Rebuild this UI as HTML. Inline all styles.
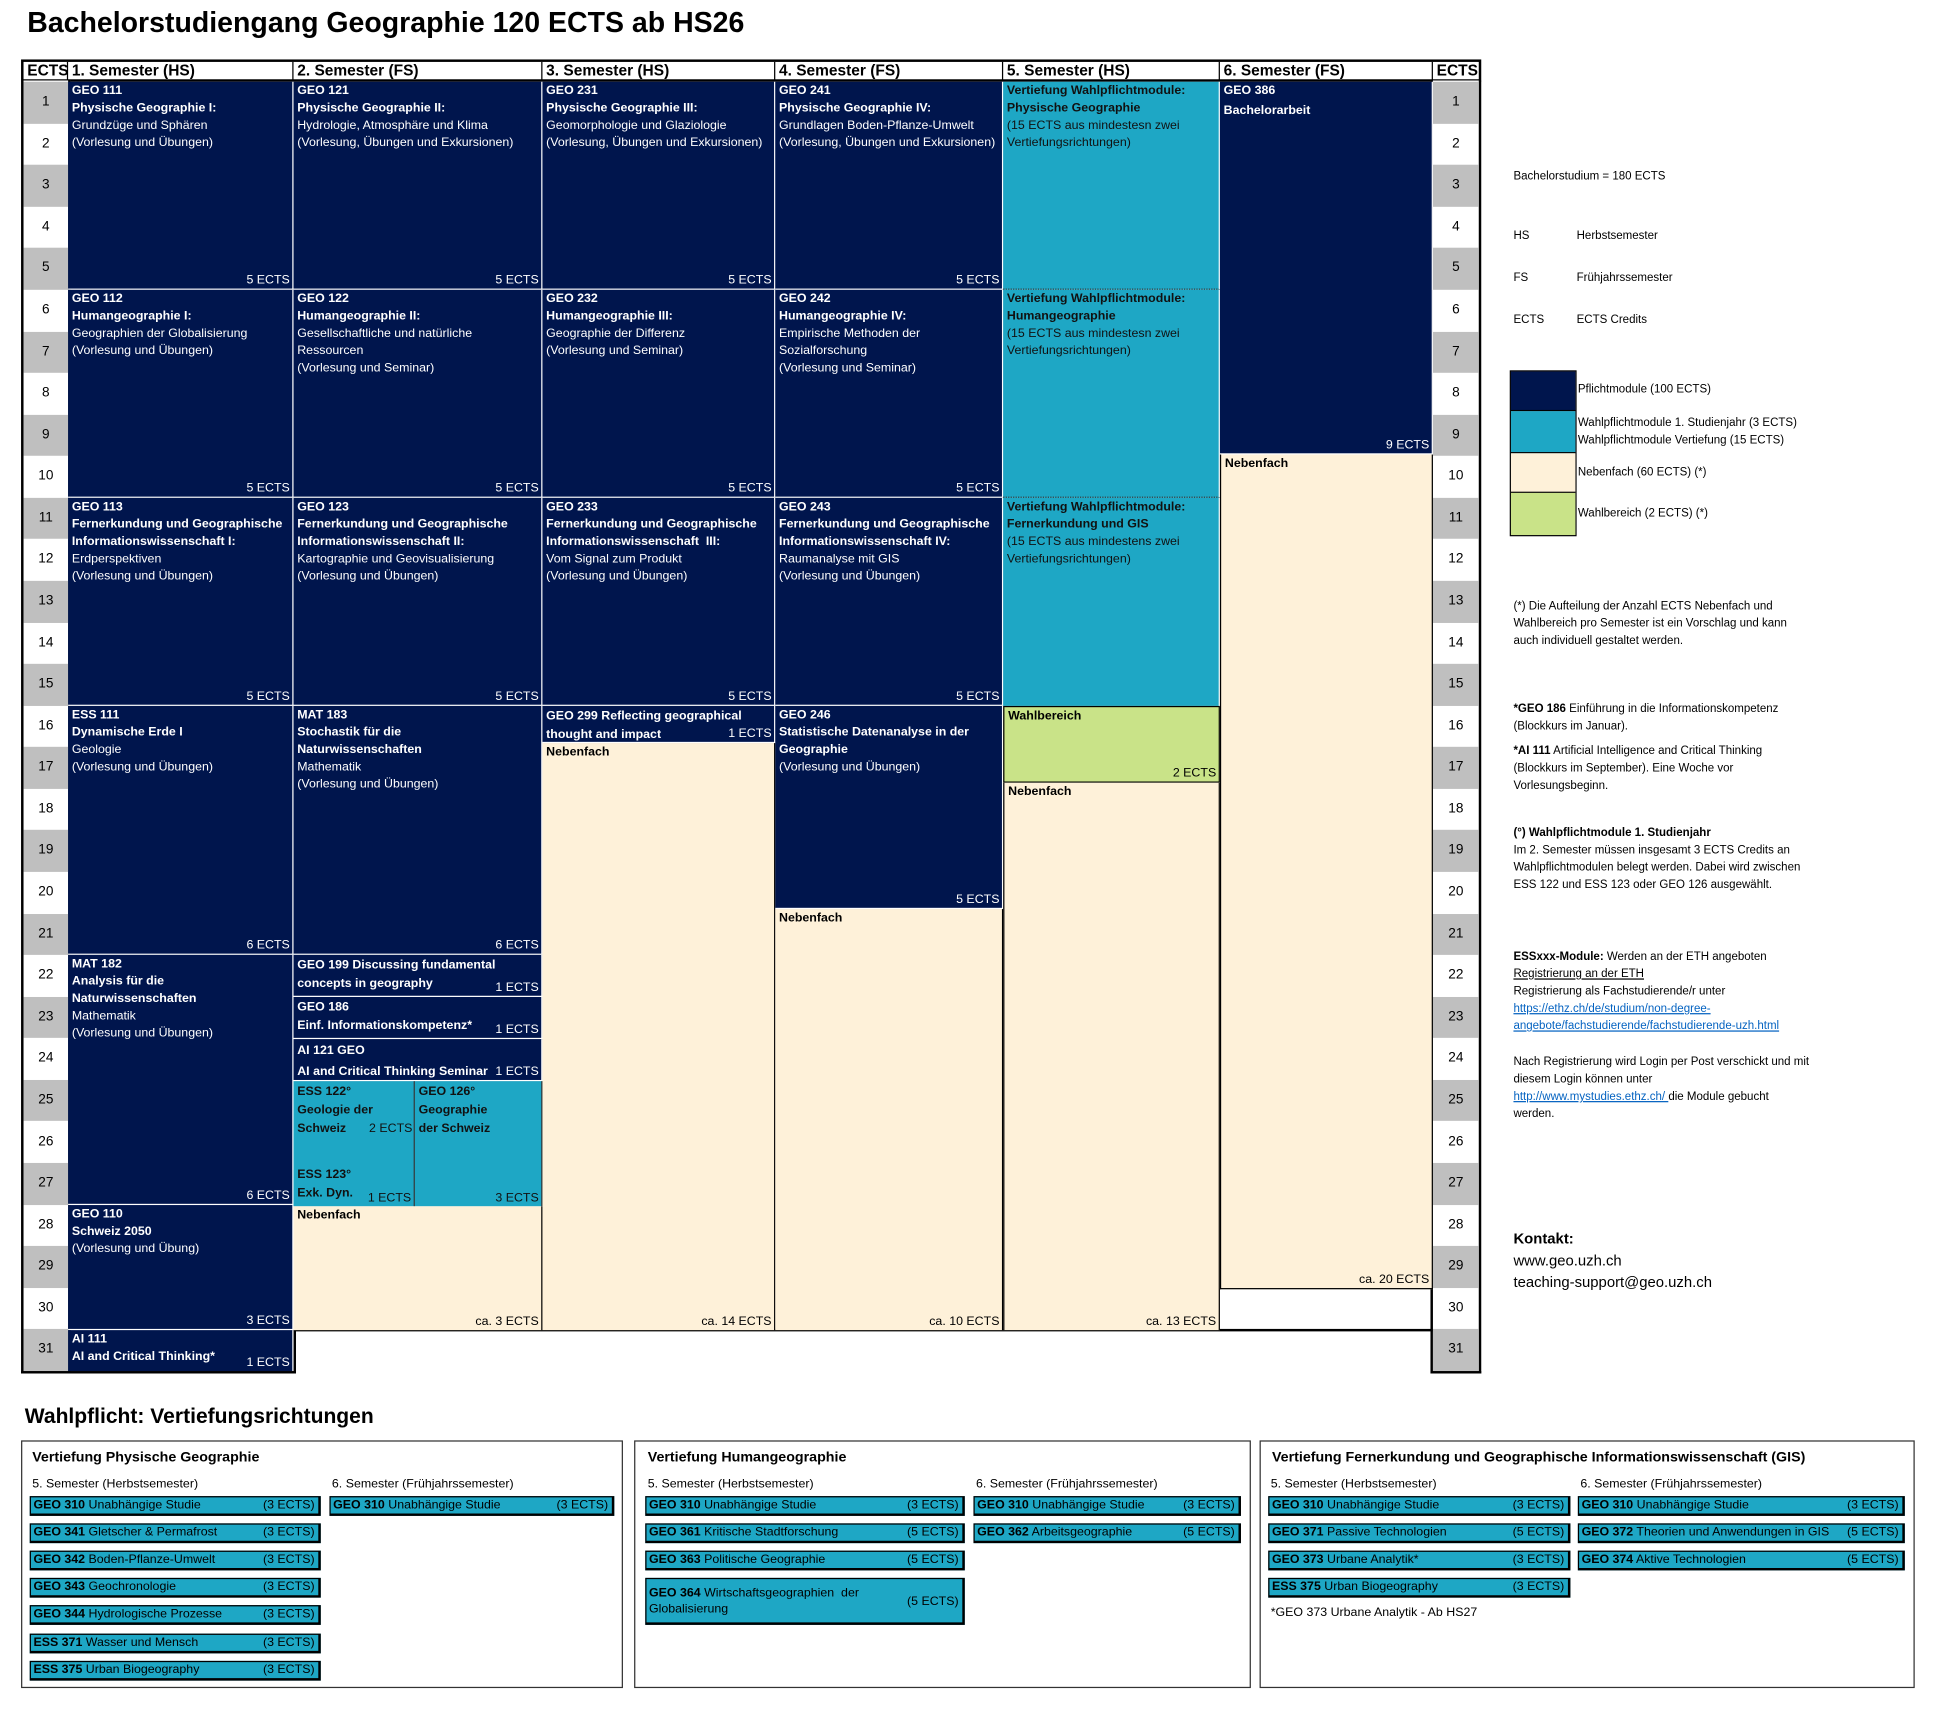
<!DOCTYPE html>
<html><head><meta charset="utf-8">
<style>
html,body{margin:0;padding:0;background:#fff;}
body{width:1942px;height:1712px;overflow:hidden;}
#w{position:absolute;left:0;top:0;width:1570px;height:1383px;transform:scale(1.2385);transform-origin:0 0;font-family:"Liberation Sans Narrow","Liberation Sans",sans-serif;color:#000;}
.a{position:absolute;box-sizing:border-box;}
.n{background:#00154d;color:#fff;border-right:1px solid #fff;border-bottom:1.5px solid #fff;}
.t{background:#1ea7c5;color:#111;border-right:1px solid #fff;}
.be{background:#fef1d9;color:#000;border-right:1px solid #000;}
.g{background:#c9e388;color:#000;border:1px solid #000;}
.b{font-size:10px;line-height:14px;padding:1px 3px;}
.b b{font-weight:bold;}
.e{position:absolute;right:2px;bottom:0;font-size:10px;line-height:13px;}
.h{font-size:12.5px;font-weight:bold;line-height:15px;padding-left:3px;border-right:1.5px solid #000;}
.num{font-size:11px;text-align:center;}
.gr{background:#bfbfbf}
.nt{font-family:"Liberation Sans",sans-serif;font-size:9.3px;line-height:14px;}
.bar{position:absolute;box-sizing:border-box;background:#1ea7c5;border:1px solid #000;border-bottom:2px solid #000;border-right:2px solid #000;font-size:10px;line-height:13px;padding:0 2px;}
.bar span{position:absolute;right:3px;top:0;}
.box{position:absolute;border:1.5px solid #333;box-sizing:border-box;}
.lb{font-size:10px;}
</style></head><body><div id="w">
<div class="a" style="left:22px;top:5px;font-size:23px;font-weight:bold;">Bachelorstudiengang Geographie 120 ECTS ab HS26</div>

<!-- header -->
<div class="a" style="left:17px;top:48px;width:1179px;height:18px;border:2px solid #000;"></div>
<div class="a h" style="left:19px;top:50px;width:36px;">ECTS</div>
<div class="a h" style="left:55px;top:50px;width:182px;">1. Semester (HS)</div>
<div class="a h" style="left:237px;top:50px;width:201px;">2. Semester (FS)</div>
<div class="a h" style="left:438px;top:50px;width:188px;">3. Semester (HS)</div>
<div class="a h" style="left:626px;top:50px;width:184px;">4. Semester (FS)</div>
<div class="a h" style="left:810px;top:50px;width:175px;">5. Semester (HS)</div>
<div class="a h" style="left:985px;top:50px;width:172px;">6. Semester (FS)</div>
<div class="a h" style="left:1157px;top:50px;width:37px;border-right:none;">ECTS</div>

<!-- ECTS columns -->
<div class="a" style="left:17px;top:65px;width:40px;height:1044px;border:2px solid #000;border-top:none;background:#fff;"></div>
<div class="a" style="left:1155px;top:65px;width:41px;height:1044px;border:2px solid #000;border-top:none;background:#fff;"></div>
<div class="a" style="left:55px;top:1073px;width:184px;height:36px;border-bottom:2px solid #000;border-right:2px solid #000;"></div>
<div class="a" style="left:237px;top:1073px;width:920px;height:2px;background:#000;"></div>

<div class="a num gr" style="left:19px;top:66px;width:36px;height:33.6px;line-height:33.6px;">1</div>
<div class="a num" style="left:19px;top:99.6px;width:36px;height:33.6px;line-height:33.6px;">2</div>
<div class="a num gr" style="left:19px;top:133.2px;width:36px;height:33.6px;line-height:33.6px;">3</div>
<div class="a num" style="left:19px;top:166.7px;width:36px;height:33.6px;line-height:33.6px;">4</div>
<div class="a num gr" style="left:19px;top:200.3px;width:36px;height:33.6px;line-height:33.6px;">5</div>
<div class="a num" style="left:19px;top:233.9px;width:36px;height:33.6px;line-height:33.6px;">6</div>
<div class="a num gr" style="left:19px;top:267.5px;width:36px;height:33.6px;line-height:33.6px;">7</div>
<div class="a num" style="left:19px;top:301.1px;width:36px;height:33.6px;line-height:33.6px;">8</div>
<div class="a num gr" style="left:19px;top:334.6px;width:36px;height:33.6px;line-height:33.6px;">9</div>
<div class="a num" style="left:19px;top:368.2px;width:36px;height:33.6px;line-height:33.6px;">10</div>
<div class="a num gr" style="left:19px;top:401.8px;width:36px;height:33.6px;line-height:33.6px;">11</div>
<div class="a num" style="left:19px;top:435.4px;width:36px;height:33.6px;line-height:33.6px;">12</div>
<div class="a num gr" style="left:19px;top:469px;width:36px;height:33.6px;line-height:33.6px;">13</div>
<div class="a num" style="left:19px;top:502.5px;width:36px;height:33.6px;line-height:33.6px;">14</div>
<div class="a num gr" style="left:19px;top:536.1px;width:36px;height:33.6px;line-height:33.6px;">15</div>
<div class="a num" style="left:19px;top:569.7px;width:36px;height:33.6px;line-height:33.6px;">16</div>
<div class="a num gr" style="left:19px;top:603.3px;width:36px;height:33.6px;line-height:33.6px;">17</div>
<div class="a num" style="left:19px;top:636.9px;width:36px;height:33.6px;line-height:33.6px;">18</div>
<div class="a num gr" style="left:19px;top:670.4px;width:36px;height:33.6px;line-height:33.6px;">19</div>
<div class="a num" style="left:19px;top:704px;width:36px;height:33.6px;line-height:33.6px;">20</div>
<div class="a num gr" style="left:19px;top:737.6px;width:36px;height:33.6px;line-height:33.6px;">21</div>
<div class="a num" style="left:19px;top:771.2px;width:36px;height:33.6px;line-height:33.6px;">22</div>
<div class="a num gr" style="left:19px;top:804.8px;width:36px;height:33.6px;line-height:33.6px;">23</div>
<div class="a num" style="left:19px;top:838.3px;width:36px;height:33.6px;line-height:33.6px;">24</div>
<div class="a num gr" style="left:19px;top:871.9px;width:36px;height:33.6px;line-height:33.6px;">25</div>
<div class="a num" style="left:19px;top:905.5px;width:36px;height:33.6px;line-height:33.6px;">26</div>
<div class="a num gr" style="left:19px;top:939.1px;width:36px;height:33.6px;line-height:33.6px;">27</div>
<div class="a num" style="left:19px;top:972.7px;width:36px;height:33.6px;line-height:33.6px;">28</div>
<div class="a num gr" style="left:19px;top:1006.2px;width:36px;height:33.6px;line-height:33.6px;">29</div>
<div class="a num" style="left:19px;top:1039.8px;width:36px;height:33.6px;line-height:33.6px;">30</div>
<div class="a num gr" style="left:19px;top:1073.4px;width:36px;height:33.6px;line-height:33.6px;">31</div>

<div class="a num gr" style="left:1157px;top:66px;width:37px;height:33.6px;line-height:33.6px;">1</div>
<div class="a num" style="left:1157px;top:99.6px;width:37px;height:33.6px;line-height:33.6px;">2</div>
<div class="a num gr" style="left:1157px;top:133.2px;width:37px;height:33.6px;line-height:33.6px;">3</div>
<div class="a num" style="left:1157px;top:166.7px;width:37px;height:33.6px;line-height:33.6px;">4</div>
<div class="a num gr" style="left:1157px;top:200.3px;width:37px;height:33.6px;line-height:33.6px;">5</div>
<div class="a num" style="left:1157px;top:233.9px;width:37px;height:33.6px;line-height:33.6px;">6</div>
<div class="a num gr" style="left:1157px;top:267.5px;width:37px;height:33.6px;line-height:33.6px;">7</div>
<div class="a num" style="left:1157px;top:301.1px;width:37px;height:33.6px;line-height:33.6px;">8</div>
<div class="a num gr" style="left:1157px;top:334.6px;width:37px;height:33.6px;line-height:33.6px;">9</div>
<div class="a num" style="left:1157px;top:368.2px;width:37px;height:33.6px;line-height:33.6px;">10</div>
<div class="a num gr" style="left:1157px;top:401.8px;width:37px;height:33.6px;line-height:33.6px;">11</div>
<div class="a num" style="left:1157px;top:435.4px;width:37px;height:33.6px;line-height:33.6px;">12</div>
<div class="a num gr" style="left:1157px;top:469px;width:37px;height:33.6px;line-height:33.6px;">13</div>
<div class="a num" style="left:1157px;top:502.5px;width:37px;height:33.6px;line-height:33.6px;">14</div>
<div class="a num gr" style="left:1157px;top:536.1px;width:37px;height:33.6px;line-height:33.6px;">15</div>
<div class="a num" style="left:1157px;top:569.7px;width:37px;height:33.6px;line-height:33.6px;">16</div>
<div class="a num gr" style="left:1157px;top:603.3px;width:37px;height:33.6px;line-height:33.6px;">17</div>
<div class="a num" style="left:1157px;top:636.9px;width:37px;height:33.6px;line-height:33.6px;">18</div>
<div class="a num gr" style="left:1157px;top:670.4px;width:37px;height:33.6px;line-height:33.6px;">19</div>
<div class="a num" style="left:1157px;top:704px;width:37px;height:33.6px;line-height:33.6px;">20</div>
<div class="a num gr" style="left:1157px;top:737.6px;width:37px;height:33.6px;line-height:33.6px;">21</div>
<div class="a num" style="left:1157px;top:771.2px;width:37px;height:33.6px;line-height:33.6px;">22</div>
<div class="a num gr" style="left:1157px;top:804.8px;width:37px;height:33.6px;line-height:33.6px;">23</div>
<div class="a num" style="left:1157px;top:838.3px;width:37px;height:33.6px;line-height:33.6px;">24</div>
<div class="a num gr" style="left:1157px;top:871.9px;width:37px;height:33.6px;line-height:33.6px;">25</div>
<div class="a num" style="left:1157px;top:905.5px;width:37px;height:33.6px;line-height:33.6px;">26</div>
<div class="a num gr" style="left:1157px;top:939.1px;width:37px;height:33.6px;line-height:33.6px;">27</div>
<div class="a num" style="left:1157px;top:972.7px;width:37px;height:33.6px;line-height:33.6px;">28</div>
<div class="a num gr" style="left:1157px;top:1006.2px;width:37px;height:33.6px;line-height:33.6px;">29</div>
<div class="a num" style="left:1157px;top:1039.8px;width:37px;height:33.6px;line-height:33.6px;">30</div>
<div class="a num gr" style="left:1157px;top:1073.4px;width:37px;height:33.6px;line-height:33.6px;">31</div>

<!-- Column 1 -->
<div class="a n b" style="left:55px;top:66px;width:182px;height:168px;"><b>GEO 111</b><br><b>Physische Geographie I:</b><br>Grundzüge und Sphären<br>(Vorlesung und Übungen)<span class="e">5 ECTS</span></div>
<div class="a n b" style="left:55px;top:234px;width:182px;height:168px;"><b>GEO 112</b><br><b>Humangeographie I:</b><br>Geographien der Globalisierung<br>(Vorlesung und Übungen)<span class="e">5 ECTS</span></div>
<div class="a n b" style="left:55px;top:402px;width:182px;height:168px;"><b>GEO 113</b><br><b>Fernerkundung und Geographische Informationswissenschaft I:</b><br>Erdperspektiven<br>(Vorlesung und Übungen)<span class="e">5 ECTS</span></div>
<div class="a n b" style="left:55px;top:570px;width:182px;height:201px;"><b>ESS 111</b><br><b>Dynamische Erde I</b><br>Geologie<br>(Vorlesung und Übungen)<span class="e">6 ECTS</span></div>
<div class="a n b" style="left:55px;top:771px;width:182px;height:202px;"><b>MAT 182</b><br><b>Analysis für die Naturwissenschaften</b><br>Mathematik<br>(Vorlesung und Übungen)<span class="e">6 ECTS</span></div>
<div class="a n b" style="left:55px;top:973px;width:182px;height:101px;"><b>GEO 110</b><br><b>Schweiz 2050</b><br>(Vorlesung und Übung)<span class="e">3 ECTS</span></div>
<div class="a n b" style="left:55px;top:1074px;width:182px;height:33px;border-bottom:none;"><b>AI 111</b><br><b>AI and Critical Thinking*</b><span class="e">1 ECTS</span></div>

<!-- Column 2 -->
<div class="a n b" style="left:237px;top:66px;width:201px;height:168px;"><b>GEO 121</b><br><b>Physische Geographie II:</b><br>Hydrologie, Atmosphäre und Klima<br>(Vorlesung, Übungen und Exkursionen)<span class="e">5 ECTS</span></div>
<div class="a n b" style="left:237px;top:234px;width:201px;height:168px;"><b>GEO 122</b><br><b>Humangeographie II:</b><br>Gesellschaftliche und natürliche Ressourcen<br>(Vorlesung und Seminar)<span class="e">5 ECTS</span></div>
<div class="a n b" style="left:237px;top:402px;width:201px;height:168px;"><b>GEO 123</b><br><b>Fernerkundung und Geographische Informationswissenschaft II:</b><br>Kartographie und Geovisualisierung<br>(Vorlesung und Übungen)<span class="e">5 ECTS</span></div>
<div class="a n b" style="left:237px;top:570px;width:201px;height:201px;"><b>MAT 183</b><br><b>Stochastik für die<br>Naturwissenschaften</b><br>Mathematik<br>(Vorlesung und Übungen)<span class="e">6 ECTS</span></div>
<div class="a n b" style="left:237px;top:771px;width:201px;height:34px;line-height:15px;"><b>GEO 199 Discussing fundamental<br>concepts in geography</b><span class="e">1 ECTS</span></div>
<div class="a n b" style="left:237px;top:805px;width:201px;height:34px;line-height:15px;"><b>GEO 186</b><br><b>Einf. Informationskompetenz*</b><span class="e">1 ECTS</span></div>
<div class="a n b" style="left:237px;top:839px;width:201px;height:34px;line-height:17px;"><b>AI 121 GEO</b><br><b>AI and Critical Thinking Seminar</b><span class="e">1 ECTS</span></div>
<div class="a t b" style="left:237px;top:873px;width:98px;height:101px;border-right:1px solid #333;line-height:15px;"><b>ESS 122°<br>Geologie der<br>Schweiz</b><span class="a" style="right:1px;top:31px;">2 ECTS</span><span class="a" style="left:3px;top:68px;"><b>ESS 123°<br>Exk. Dyn.</b></span><span class="e">1 ECTS</span></div>
<div class="a t b" style="left:335px;top:873px;width:103px;height:101px;line-height:15px;border-right:1px solid #333;"><b>GEO 126°<br>Geographie<br>der Schweiz</b><span class="e">3 ECTS</span></div>
<div class="a be b" style="left:237px;top:974px;width:201px;height:100px;"><b>Nebenfach</b><span class="e">ca. 3 ECTS</span></div>

<!-- Column 3 -->
<div class="a n b" style="left:438px;top:66px;width:188px;height:168px;"><b>GEO 231</b><br><b>Physische Geographie III:</b><br>Geomorphologie und Glaziologie<br>(Vorlesung, Übungen und Exkursionen)<span class="e">5 ECTS</span></div>
<div class="a n b" style="left:438px;top:234px;width:188px;height:168px;"><b>GEO 232</b><br><b>Humangeographie III:</b><br>Geographie der Differenz<br>(Vorlesung und Seminar)<span class="e">5 ECTS</span></div>
<div class="a n b" style="left:438px;top:402px;width:188px;height:168px;"><b>GEO 233</b><br><b>Fernerkundung und Geographische Informationswissenschaft &nbsp;III:</b><br>Vom Signal zum Produkt<br>(Vorlesung und Übungen)<span class="e">5 ECTS</span></div>
<div class="a n b" style="left:438px;top:570px;width:188px;height:30px;line-height:15px;"><b>GEO 299 Reflecting geographical<br>thought and impact</b><span class="e">1 ECTS</span></div>
<div class="a be b" style="left:438px;top:600px;width:188px;height:474px;"><b>Nebenfach</b><span class="e">ca. 14 ECTS</span></div>

<!-- Column 4 -->
<div class="a n b" style="left:626px;top:66px;width:184px;height:168px;"><b>GEO 241</b><br><b>Physische Geographie IV:</b><br>Grundlagen Boden-Pflanze-Umwelt<br>(Vorlesung, Übungen und Exkursionen)<span class="e">5 ECTS</span></div>
<div class="a n b" style="left:626px;top:234px;width:184px;height:168px;"><b>GEO 242</b><br><b>Humangeographie IV:</b><br>Empirische Methoden der Sozialforschung<br>(Vorlesung und Seminar)<span class="e">5 ECTS</span></div>
<div class="a n b" style="left:626px;top:402px;width:184px;height:168px;"><b>GEO 243</b><br><b>Fernerkundung und Geographische Informationswissenschaft IV:</b><br>Raumanalyse mit GIS<br>(Vorlesung und Übungen)<span class="e">5 ECTS</span></div>
<div class="a n b" style="left:626px;top:570px;width:184px;height:164px;"><b>GEO 246</b><br><b>Statistische Datenanalyse in der Geographie</b><br>(Vorlesung und Übungen)<span class="e">5 ECTS</span></div>
<div class="a be b" style="left:626px;top:734px;width:184px;height:340px;"><b>Nebenfach</b><span class="e">ca. 10 ECTS</span></div>

<!-- Column 5 -->
<div class="a t b" style="left:810px;top:66px;width:175px;height:168px;border-bottom:1px dotted #333;"><b>Vertiefung Wahlpflichtmodule:<br>Physische Geographie</b><br>(15 ECTS aus mindestesn zwei Vertiefungsrichtungen)</div>
<div class="a t b" style="left:810px;top:234px;width:175px;height:168px;border-bottom:1px dotted #333;"><b>Vertiefung Wahlpflichtmodule:<br>Humangeographie</b><br>(15 ECTS aus mindestesn zwei Vertiefungsrichtungen)</div>
<div class="a t b" style="left:810px;top:402px;width:175px;height:168px;"><b>Vertiefung Wahlpflichtmodule:<br>Fernerkundung und GIS</b><br>(15 ECTS aus mindestens zwei Vertiefungsrichtungen)</div>
<div class="a g b" style="left:810px;top:570px;width:175px;height:62px;"><b>Wahlbereich</b><span class="e">2 ECTS</span></div>
<div class="a be b" style="left:810px;top:632px;width:175px;height:442px;border-left:1px solid #000;"><b>Nebenfach</b><span class="e">ca. 13 ECTS</span></div>

<!-- Column 6 -->
<div class="a n b" style="left:985px;top:66px;width:172px;height:301px;"><b>GEO 386</b><br><b style="line-height:18px">Bachelorarbeit</b><span class="e">9 ECTS</span></div>
<div class="a be b" style="left:985px;top:367px;width:172px;height:674px;border-left:1px solid #000;border-bottom:1px solid #000;"><b>Nebenfach</b><span class="e">ca. 20 ECTS</span></div>

<!-- legend -->
<div class="a nt" style="left:1222px;top:135px;">Bachelorstudium = 180 ECTS</div>
<div class="a nt" style="left:1222px;top:183px;">HS</div><div class="a nt" style="left:1273px;top:183px;">Herbstsemester</div>
<div class="a nt" style="left:1222px;top:217px;">FS</div><div class="a nt" style="left:1273px;top:217px;">Frühjahrssemester</div>
<div class="a nt" style="left:1222px;top:251px;">ECTS</div><div class="a nt" style="left:1273px;top:251px;">ECTS Credits</div>
<div class="a" style="left:1219px;top:299px;width:54px;height:134px;border:1.5px solid #000;"></div>
<div class="a" style="left:1220px;top:300px;width:52px;height:32px;background:#00154d;border-bottom:1px solid #000;"></div>
<div class="a" style="left:1220px;top:332px;width:52px;height:34px;background:#1ea7c5;border-bottom:1px solid #000;"></div>
<div class="a" style="left:1220px;top:366px;width:52px;height:32px;background:#fef1d9;border-bottom:1px solid #000;"></div>
<div class="a" style="left:1220px;top:398px;width:52px;height:34px;background:#c9e388;"></div>
<div class="a nt" style="left:1274px;top:307px;">Pflichtmodule (100 ECTS)</div>
<div class="a nt" style="left:1274px;top:334px;">Wahlpflichtmodule 1. Studienjahr (3 ECTS)<br>Wahlpflichtmodule Vertiefung (15 ECTS)</div>
<div class="a nt" style="left:1274px;top:374px;">Nebenfach (60 ECTS) (*)</div>
<div class="a nt" style="left:1274px;top:407px;">Wahlbereich (2 ECTS) (*)</div>

<div class="a nt" style="left:1222px;top:482px;">(*) Die Aufteilung der Anzahl ECTS Nebenfach und<br>Wahlbereich pro Semester ist ein Vorschlag und kann<br>auch individuell gestaltet werden.</div>
<div class="a nt" style="left:1222px;top:565px;"><b>*GEO 186</b> Einführung in die Informationskompetenz<br>(Blockkurs im Januar).</div>
<div class="a nt" style="left:1222px;top:599px;"><b>*AI 111</b> Artificial Intelligence and Critical Thinking<br>(Blockkurs im September). Eine Woche vor<br>Vorlesungsbeginn.</div>
<div class="a nt" style="left:1222px;top:665px;"><b>(°) Wahlpflichtmodule 1. Studienjahr</b><br>Im 2. Semester müssen insgesamt 3 ECTS Credits an<br>Wahlpflichtmodulen belegt werden. Dabei wird zwischen<br>ESS 122 und ESS 123 oder GEO 126 ausgewählt.</div>
<div class="a nt" style="left:1222px;top:765px;"><b>ESSxxx-Module:</b> Werden an der ETH angeboten<br><u>Registrierung an der ETH</u><br>Registrierung als Fachstudierende/r unter<br><u style="color:#0563c1">https://ethz.ch/de/studium/non-degree-<br>angebote/fachstudierende/fachstudierende-uzh.html</u></div>
<div class="a nt" style="left:1222px;top:850px;">Nach Registrierung wird Login per Post verschickt und mit<br>diesem Login können unter<br><u style="color:#0563c1">http://www.mystudies.ethz.ch/ </u>die Module gebucht<br>werden.</div>
<div class="a nt" style="left:1222px;top:992px;font-size:12px;line-height:17.5px;"><b>Kontakt:</b><br>www.geo.uzh.ch<br>teaching-support@geo.uzh.ch</div>

<!-- bottom -->
<div class="a" style="left:20px;top:1134px;font-size:17px;font-weight:bold;">Wahlpflicht: Vertiefungsrichtungen</div>
<div class="box" style="left:17px;top:1163px;width:486px;height:200px;"></div>
<div class="box" style="left:512px;top:1163px;width:498px;height:200px;"></div>
<div class="box" style="left:1017px;top:1163px;width:529px;height:200px;"></div>

<div class="a" style="left:26px;top:1171px;font-size:11.5px;font-weight:bold;">Vertiefung Physische Geographie</div>
<div class="a lb" style="left:26px;top:1193px;">5. Semester (Herbstsemester)</div>
<div class="a lb" style="left:268px;top:1193px;">6. Semester (Frühjahrssemester)</div>
<div class="bar" style="left:24px;top:1208px;width:235px;height:16px;"><b>GEO 310</b> Unabhängige Studie<span>(3 ECTS)</span></div>
<div class="bar" style="left:266px;top:1208px;width:230px;height:16px;"><b>GEO 310</b> Unabhängige Studie<span>(3 ECTS)</span></div>
<div class="bar" style="left:24px;top:1230px;width:235px;height:16px;"><b>GEO 341</b> Gletscher &amp; Permafrost<span>(3 ECTS)</span></div>
<div class="bar" style="left:24px;top:1252px;width:235px;height:16px;"><b>GEO 342</b> Boden-Pflanze-Umwelt<span>(3 ECTS)</span></div>
<div class="bar" style="left:24px;top:1274px;width:235px;height:16px;"><b>GEO 343</b> Geochronologie<span>(3 ECTS)</span></div>
<div class="bar" style="left:24px;top:1296px;width:235px;height:16px;"><b>GEO 344</b> Hydrologische Prozesse<span>(3 ECTS)</span></div>
<div class="bar" style="left:24px;top:1319px;width:235px;height:16px;"><b>ESS 371</b> Wasser und Mensch<span>(3 ECTS)</span></div>
<div class="bar" style="left:24px;top:1341px;width:235px;height:16px;"><b>ESS 375</b> Urban Biogeography<span>(3 ECTS)</span></div>

<div class="a" style="left:523px;top:1171px;font-size:11.5px;font-weight:bold;">Vertiefung Humangeographie</div>
<div class="a lb" style="left:523px;top:1193px;">5. Semester (Herbstsemester)</div>
<div class="a lb" style="left:788px;top:1193px;">6. Semester (Frühjahrssemester)</div>
<div class="bar" style="left:521px;top:1208px;width:258px;height:16px;"><b>GEO 310</b> Unabhängige Studie<span>(3 ECTS)</span></div>
<div class="bar" style="left:786px;top:1208px;width:216px;height:16px;"><b>GEO 310</b> Unabhängige Studie<span>(3 ECTS)</span></div>
<div class="bar" style="left:521px;top:1230px;width:258px;height:16px;"><b>GEO 361</b> Kritische Stadtforschung<span>(5 ECTS)</span></div>
<div class="bar" style="left:786px;top:1230px;width:216px;height:16px;"><b>GEO 362</b> Arbeitsgeographie<span>(5 ECTS)</span></div>
<div class="bar" style="left:521px;top:1252px;width:258px;height:16px;"><b>GEO 363</b> Politische Geographie<span>(5 ECTS)</span></div>
<div class="bar" style="left:521px;top:1274px;width:258px;height:38px;padding-top:5px;"><b>GEO 364</b> Wirtschaftsgeographien &nbsp;der<br>Globalisierung<span style="top:12px;">(5 ECTS)</span></div>

<div class="a" style="left:1027px;top:1171px;font-size:11.5px;font-weight:bold;">Vertiefung Fernerkundung und Geographische Informationswissenschaft (GIS)</div>
<div class="a lb" style="left:1026px;top:1193px;">5. Semester (Herbstsemester)</div>
<div class="a lb" style="left:1276px;top:1193px;">6. Semester (Frühjahrssemester)</div>
<div class="bar" style="left:1024px;top:1208px;width:244px;height:16px;"><b>GEO 310</b> Unabhängige Studie<span>(3 ECTS)</span></div>
<div class="bar" style="left:1274px;top:1208px;width:264px;height:16px;"><b>GEO 310</b> Unabhängige Studie<span>(3 ECTS)</span></div>
<div class="bar" style="left:1024px;top:1230px;width:244px;height:16px;"><b>GEO 371</b> Passive Technologien<span>(5 ECTS)</span></div>
<div class="bar" style="left:1274px;top:1230px;width:264px;height:16px;"><b>GEO 372</b> Theorien und Anwendungen in GIS<span>(5 ECTS)</span></div>
<div class="bar" style="left:1024px;top:1252px;width:244px;height:16px;"><b>GEO 373</b> Urbane Analytik*<span>(3 ECTS)</span></div>
<div class="bar" style="left:1274px;top:1252px;width:264px;height:16px;"><b>GEO 374</b> Aktive Technologien<span>(5 ECTS)</span></div>
<div class="bar" style="left:1024px;top:1274px;width:244px;height:16px;"><b>ESS 375</b> Urban Biogeography<span>(3 ECTS)</span></div>
<div class="a lb" style="left:1026px;top:1297px;">*GEO 373 Urbane Analytik - Ab HS27</div>
</div></body></html>
